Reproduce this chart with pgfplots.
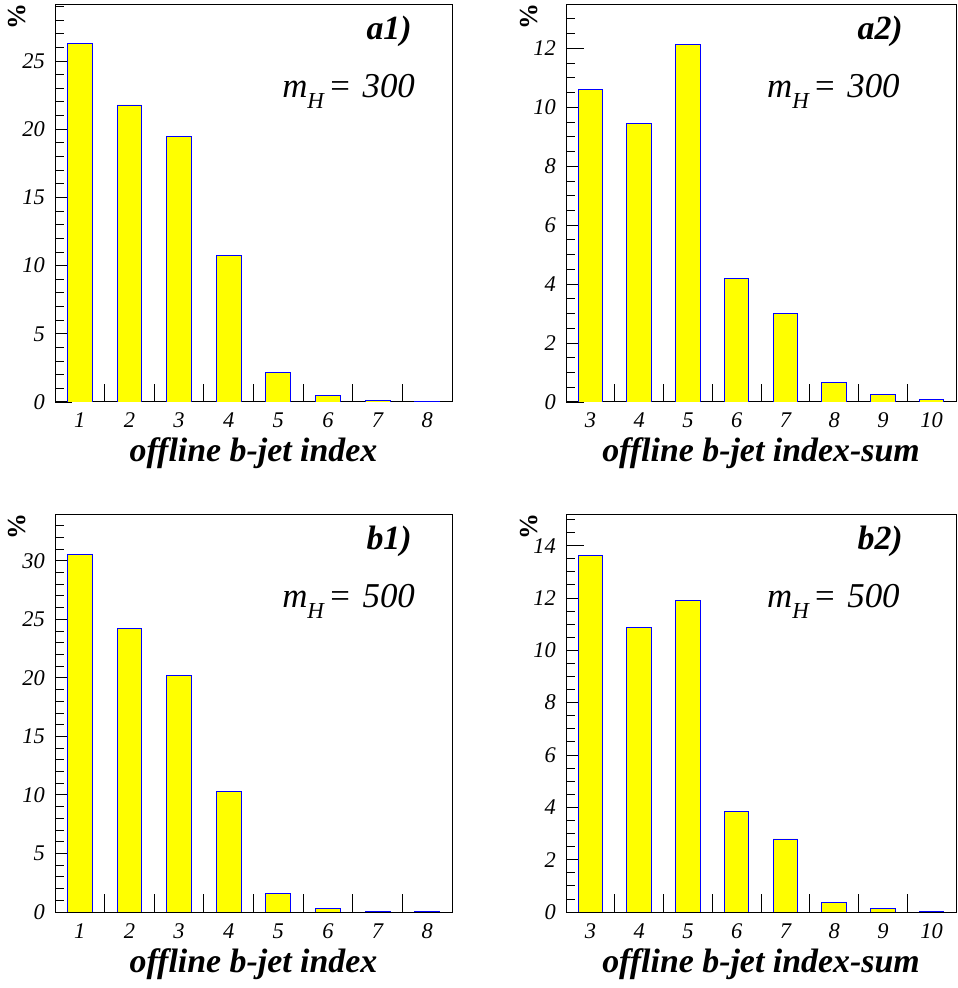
\documentclass[border=0pt]{standalone}
\usepackage{pgfplots}
\pgfplotsset{compat=1.18}
\usepackage{fontspec}
\setmainfont{Liberation Serif}
\definecolor{barfill}{RGB}{255,255,0}
\definecolor{baredge}{RGB}{0,0,255}
\newcommand{\mH}[1]{\fontsize{35}{35}\selectfont\itshape m\raisebox{-11bp}{\fontsize{23}{23}\selectfont H}\hspace{4bp}=\hspace{11bp}#1}
\tikzset{
  plabel/.style={anchor=base east, inner sep=0pt, font=\fontsize{34}{34}\selectfont\bfseries\itshape},
  mlabel/.style={anchor=base east, inner sep=0pt},
}
\pgfplotsset{
  hist/.style={
    scale only axis, height=397bp,
    axis line style={black, line width=1bp},
    ybar, bar width=0.5,
    ymin=0, enlargelimits=false,
    tick align=inside,
    xtick pos=bottom, ytick pos=left,
    major tick length=17.5bp, minor tick length=9bp,
    tick style={black, line width=0.8bp},
    xticklabels={},
    extra x tick style={tick style={draw=none}},
    /pgf/number format/assume math mode=true,
    ticklabel style={font=\fontsize{22.5}{22.5}\selectfont\itshape},
    xticklabel style={anchor=base, inner sep=0pt, yshift=-26bp},
    yticklabel style={anchor=east, inner sep=0pt, xshift=-10bp},
    every axis x label/.style={at={(axis description cs:0.5,0)}, anchor=base, yshift=-60bp, font=\fontsize{34}{34}\selectfont\bfseries\itshape},
    every axis y label/.style={at={(axis description cs:-0.096,0.97)}, rotate=90, anchor=center, font=\fontsize{26}{26}\selectfont\bfseries},
    ylabel={\%},
  },
  histbar/.style={fill=barfill, draw=baredge, line width=0.9bp},
}
\begin{document}
\begin{tikzpicture}
\useasboundingbox (0,0) rectangle (958bp,988bp);
% a1
\begin{axis}[hist, at={(55bp,586bp)}, anchor=south west, width=397bp,
  xmin=0.5, xmax=8.5, xtick={1.5,2.5,...,8.5}, extra x ticks={1,...,8},
  ymax=29.1, ytick={0,5,...,25}, minor ytick={0,...,29},
  xlabel={offline b-jet index}]
\addplot[histbar] coordinates {(1,26.25) (2,21.77) (3,19.43) (4,10.73) (5,2.13) (6,0.46) (7,0.12) (8,0.03)};
\node[plabel] at (rel axis cs:0.899,0.912) {a1)};
\node[mlabel] at (rel axis cs:0.907,0.768) {\mH{300}};
\end{axis}
% a2
\begin{axis}[hist, at={(566bp,586bp)}, anchor=south west, width=390bp,
  xmin=2.5, xmax=10.5, xtick={3.5,4.5,...,10.5}, extra x ticks={3,...,10},
  ymax=13.47, ytick={0,2,...,12}, minor ytick={0,0.5,...,13},
  xlabel={offline b-jet index-sum}]
\addplot[histbar] coordinates {(3,10.60) (4,9.46) (5,12.14) (6,4.18) (7,3.01) (8,0.67) (9,0.25) (10,0.07)};
\node[plabel] at (rel axis cs:0.864,0.912) {a2)};
\node[mlabel] at (rel axis cs:0.856,0.768) {\mH{300}};
\end{axis}
% b1
\begin{axis}[hist, at={(55bp,76bp)}, anchor=south west, width=397bp,
  xmin=0.5, xmax=8.5, xtick={1.5,2.5,...,8.5}, extra x ticks={1,...,8},
  ymax=33.9, ytick={0,5,...,30}, minor ytick={0,...,33},
  xlabel={offline b-jet index}]
\addplot[histbar] coordinates {(1,30.49) (2,24.25) (3,20.20) (4,10.32) (5,1.60) (6,0.28) (7,0.05) (8,0.01)};
\node[plabel] at (rel axis cs:0.899,0.912) {b1)};
\node[mlabel] at (rel axis cs:0.907,0.768) {\mH{500}};
\end{axis}
% b2
\begin{axis}[hist, at={(566bp,76bp)}, anchor=south west, width=390bp,
  xmin=2.5, xmax=10.5, xtick={3.5,4.5,...,10.5}, extra x ticks={3,...,10},
  ymax=15.17, ytick={0,2,...,14}, minor ytick={0,0.5,...,15},
  xlabel={offline b-jet index-sum}]
\addplot[histbar] coordinates {(3,13.64) (4,10.87) (5,11.92) (6,3.85) (7,2.79) (8,0.37) (9,0.13) (10,0.02)};
\node[plabel] at (rel axis cs:0.864,0.912) {b2)};
\node[mlabel] at (rel axis cs:0.856,0.768) {\mH{500}};
\end{axis}
\end{tikzpicture}
\end{document}
